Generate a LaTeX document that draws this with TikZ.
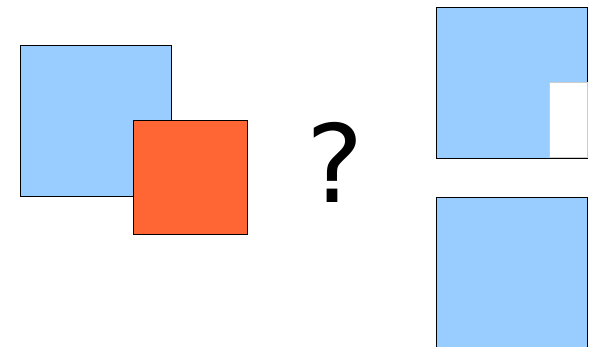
\documentclass[tikz,border=0pt]{standalone}
\usepackage{fontspec}
\setsansfont{DejaVu Sans}
\usetikzlibrary{positioning}
\definecolor{skyblue}{HTML}{99CCFF}
\definecolor{tangerine}{HTML}{FF6633}

\begin{document}
\begin{tikzpicture}[
    x=1pt, y=-1pt,
    sq/.style={draw, line width=0.9pt, inner sep=0pt, outer sep=0pt},
    big/.style={sq, fill=skyblue, minimum width=151pt, minimum height=151pt},
    small/.style={sq, fill=tangerine, minimum width=113.5pt, minimum height=113.5pt}
]
\useasboundingbox (0,0) rectangle (599,346);
\node[big] (back) at (96,120.5) {};
\node[small] (front) at (190.5,177.5) {};
\node[font=\sffamily\fontsize{108}{108}\selectfont, inner sep=0pt] (ask) at (335,162) {?};
\node[big] (cut) at (511.8,82.7) {};
\node[big] (whole) at (511.8,272.5) {};
% the missing corner of the top square
\node[fill=white, draw=black!20, line width=0.8pt, inner sep=0pt,
      minimum width=38pt, minimum height=75.6pt, anchor=south east] (gap) at (cut.south east) {};
\end{tikzpicture}
\end{document}
